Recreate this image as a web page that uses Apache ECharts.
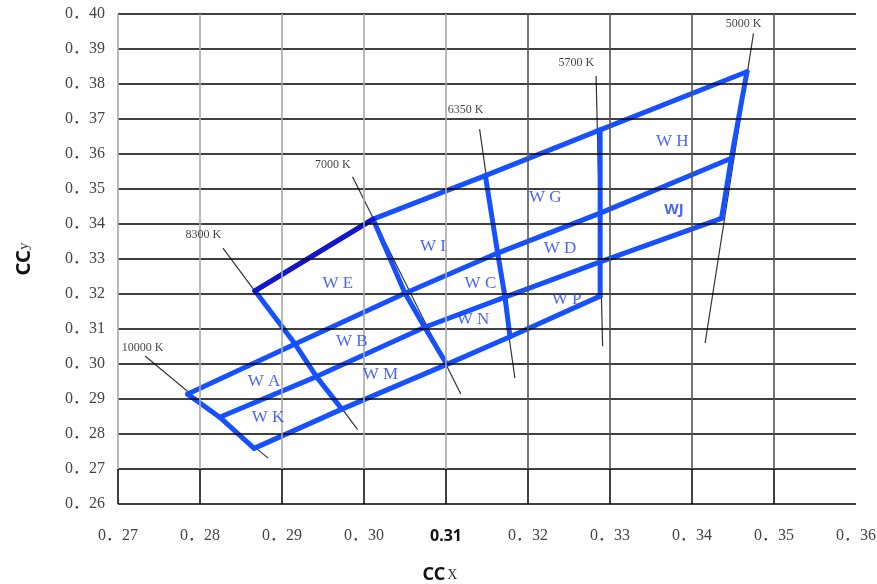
<!DOCTYPE html>
<html><head><meta charset="utf-8">
<script src="https://cdn.jsdelivr.net/npm/echarts@6/dist/echarts.min.js"></script>
<style>html,body{margin:0;padding:0;background:#fff}#c{width:877px;height:584px}</style>
</head><body><div id="c"></div>
<script>
// ---- tick values / labels ----
const xTickValues = [0.27,0.28,0.29,0.30,0.31,0.32,0.33,0.34,0.35,0.36];
const xTickLabels = ['0．27','0．28','0．29','0．30','0.31','0．32','0．33','0．34','0．35','0．36'];
const yTickValues = [0.26,0.27,0.28,0.29,0.30,0.31,0.32,0.33,0.34,0.35,0.36,0.37,0.38,0.39,0.40];
const yTickLabels = ['0．26','0．27','0．28','0．29','0．30','0．31','0．32','0．33','0．34','0．35','0．36','0．37','0．38','0．39','0．40'];

// ---- grid (quadrangle) node points, rows from top to bottom ----
const row1 = [[0.2867,0.3209],[0.3011,0.3414],[0.3148,0.3538],[0.3288,0.3669],[0.3467,0.3835]];
const row2 = [[0.2785,0.2914],[0.2916,0.3057],[0.3050,0.3202],[0.3163,0.3317],[0.3288,0.3431],[0.3448,0.3588]];
const row3 = [[0.2824,0.2848],[0.2942,0.2964],[0.3074,0.3105],[0.3172,0.3191],[0.3288,0.3292],[0.3436,0.3416]];
const row4 = [[0.2866,0.2759],[0.2973,0.2871],[0.3101,0.2999],[0.3178,0.3078],[0.3288,0.3194]];

// ---- isotherm (CCT) thin lines ----
const isoNames = ['10000 K','8300 K','7000 K','6350 K','5700 K','5000 K'];
const isoLines = [
  [[0.2733,0.3023],[0.2883,0.2731]],
  [[0.2828,0.3331],[0.2992,0.2813]],
  [[0.2986,0.3535],[0.3118,0.2914]],
  [[0.3141,0.3671],[0.3184,0.2960]],
  [[0.3283,0.3823],[0.3291,0.3051]],
  [[0.3475,0.3945],[0.3416,0.3060]]
];
const isoLabelPos = [[0.2730,0.3046],[0.2804,0.3369],[0.2962,0.3569],[0.3124,0.3726],[0.3259,0.3860],[0.3463,0.3973]];

// ---- region labels ----
const regionNames = ['W E','W B','W A','W K','W M','W I','W C','W N','W G','W D','W P','W H','WJ'];
const regionPos = [[0.2968,0.3231],[0.2985,0.3063],[0.2878,0.2951],[0.2883,0.2846],[0.3020,0.2971],
                   [0.3084,0.3337],[0.3142,0.3229],[0.3133,0.3128],[0.3221,0.3475],[0.3239,0.3331],
                   [0.3247,0.3183],[0.3376,0.3635],[0.3378,0.3440]];

const BLUE = '#1650ff';
const LABEL_BLUE = '#1a3cff';
const DARK = '#1414c8';
const SERIF = '"Liberation Serif","Noto Sans CJK SC",serif';

// columns built from rows
const cols = [];
for (let c = 0; c < row2.length; c++) {
  const pts = [];
  if (c > 0) pts.push(row1[c-1]);
  pts.push(row2[c]); pts.push(row3[c]);
  if (row4[c]) pts.push(row4[c]);
  cols.push(pts);
}

// gridlines from ticks
const gridMarks = [];
yTickValues.forEach(v => gridMarks.push({yAxis: v, lineStyle: {color: '#000', width: 1.5, type: 'solid'}}));
xTickValues.slice(0, -1).forEach(v => {
  gridMarks.push([{coord: [v, 0.27], lineStyle: {color: v <= 0.3105 ? '#a8a8a8' : '#555', width: 1.6, type: 'solid'}}, {coord: [v, 0.40]}]);
  gridMarks.push([{coord: [v, 0.26], lineStyle: {color: '#000', width: 1.5, type: 'solid'}}, {coord: [v, 0.27]}]);
});

const series = [];
series.push({
  type: 'line', data: [[0.27,0.26]], symbol: 'none', lineStyle: {opacity: 0}, silent: true, z: 1,
  markLine: {silent: true, symbol: ['none','none'], label: {show: false}, animation: false, data: gridMarks}
});
isoLines.forEach(l => series.push({
  type: 'line', data: l, symbol: 'none', silent: true, z: 2,
  lineStyle: {color: '#333', width: 1.2}
}));
[row1, row2, row3, row4].concat(cols).forEach(pts => series.push({
  type: 'line', data: pts, symbol: 'none', silent: true, z: 3,
  lineStyle: {color: BLUE, width: 5, cap: 'round', join: 'round'}
}));
series.push({
  type: 'line', data: [row1[0], row1[1]], symbol: 'none', silent: true, z: 4,
  lineStyle: {color: DARK, width: 5, cap: 'round', join: 'round'}
});
series.push({
  type: 'scatter', symbolSize: 0, silent: true, z: 5,
  data: isoLabelPos.map((p, i) => [p[0], p[1], isoNames[i]]),
  label: {show: true, position: 'inside', formatter: p => p.data[2], color: '#111', fontSize: 12, fontFamily: SERIF}
});
series.push({
  type: 'scatter', symbolSize: 0, silent: true, z: 5,
  data: regionPos.map((p, i) => [p[0], p[1], regionNames[i]]),
  label: {show: true, position: 'inside',
    formatter: p => p.data[2] === 'WJ' ? '{j|WJ}' : p.data[2],
    color: LABEL_BLUE, fontSize: 17, fontFamily: SERIF,
    rich: {j: {color: LABEL_BLUE, fontSize: 15, fontWeight: 'bold', fontFamily: '"Noto Sans",sans-serif'}}}
});

const chart = echarts.init(document.getElementById('c'), null, {renderer: 'canvas'});
chart.setOption({
  animation: false,
  backgroundColor: '#fff',
  grid: {left: 118, right: 21, top: 14, bottom: 80, outerBoundsMode: 'none', containLabel: false},
  xAxis: {
    type: 'value', min: 0.27, max: 0.36, interval: 0.01,
    axisLine: {show: false}, axisTick: {show: false}, splitLine: {show: false},
    axisLabel: {
      margin: 24, fontSize: 16, color: '#444', fontFamily: SERIF,
      formatter: v => { const i = Math.round((v - 0.27) / 0.01); const t = xTickLabels[i]; return i === 4 ? '{b|' + t + '}' : t; },
      rich: {b: {fontSize: 16, fontWeight: 'bold', color: '#111', fontFamily: '"Noto Sans",sans-serif'}}
    },
    name: '{a|CC}{b|X}', nameLocation: 'middle', nameGap: 62,
    nameTextStyle: {padding: [0, 94, 0, 0],
      rich: {a: {fontSize: 18, fontWeight: 'bold', color: '#111', fontFamily: '"Noto Sans",sans-serif'},
             b: {fontSize: 14, color: '#333', fontFamily: SERIF, padding: [0, 0, 0, 2]}}}
  },
  yAxis: {
    type: 'value', min: 0.26, max: 0.40, interval: 0.01,
    axisLine: {show: false}, axisTick: {show: false}, splitLine: {show: false},
    axisLabel: {
      margin: 13, fontSize: 16, color: '#444', fontFamily: SERIF,
      formatter: v => yTickLabels[Math.round((v - 0.26) / 0.01)]
    },
    name: '{a|CC}{b|y}', nameLocation: 'middle', nameGap: 84, nameRotate: 90,
    nameTextStyle: {
      rich: {a: {fontSize: 20, fontWeight: 'bold', color: '#111', fontFamily: '"Noto Sans",sans-serif'},
             b: {fontSize: 15, color: '#333', fontFamily: SERIF}}}
  },
  series: series
});
</script></body></html>
